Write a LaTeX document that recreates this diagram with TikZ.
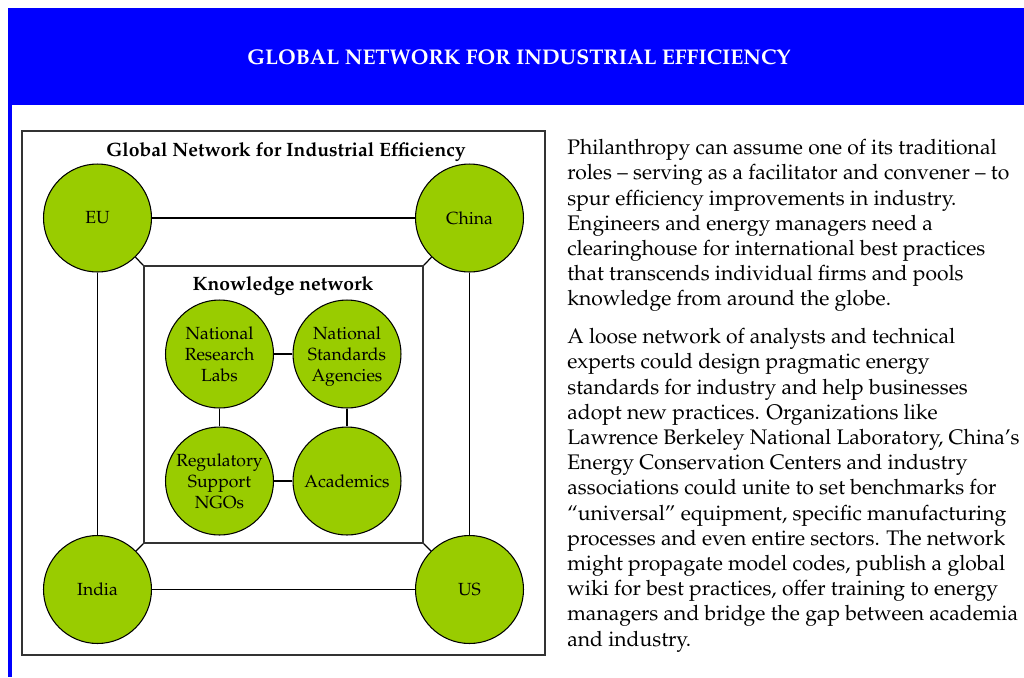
\documentclass[tikz,border=0pt]{standalone}
\usepackage[T1]{fontenc}
\usepackage{mathpazo}
\usetikzlibrary{positioning}
\definecolor{hdrblue}{RGB}{0,0,255}
\definecolor{leaf}{RGB}{153,204,0}
\tikzset{
  hub/.style={circle, draw=black, line width=0.6pt, fill=leaf, minimum size=2.16cm,
    inner sep=0pt, align=center, font=\fontsize{10}{12}\selectfont},
  link/.style={line width=0.7pt},
  frame/.style={draw=black!80, line width=1pt},
  boxtitle/.style={font=\bfseries\fontsize{11}{13}\selectfont},
  headtitle/.style={text=white, font=\bfseries\fontsize{12.1}{14}\selectfont},
  para/.style={anchor=north west, inner sep=0pt, align=left,
    font=\fontsize{12}{14.35}\selectfont}
}

\begin{document}
\begin{tikzpicture}[x=0.02cm, y=-0.02cm]
			%%%%% FRAME %%%%%
			\useasboundingbox (0,0) rectangle (1024,677);
			\fill[hdrblue] (8,8) rectangle (1024,105);
			\fill[hdrblue] (8,105) rectangle (12,677);
			\node[headtitle] (head) at (519,57) {GLOBAL NETWORK FOR INDUSTRIAL EFFICIENCY};
			
			%%%%% GLOBAL NETWORK %%%%%
			\draw[frame] (22,131) rectangle (545,655);
			\node[boxtitle] (gtitle) at (286,152) {Global Network for Industrial Efficiency};
			
			\node[hub] (eu) at (97.5,218) {EU};
			\node[hub] (china) at (469.5,218) {China};
			\node[hub] (india) at (97.5,589.5) {India};
			\node[hub] (us) at (469.5,589.5) {US};
			
			\draw[link] (eu) -- (china);
			\draw[link] (eu) -- (india);
			\draw[link] (china) -- (us);
			\draw[link] (india) -- (us);
			
			%%%%% KNOWLEDGE NETWORK %%%%%
			\node[frame, minimum width=5.58cm, minimum height=5.54cm, inner sep=0pt] (kbox) at (283.5,404.5) {};
			\node[boxtitle] (ktitle) at (283,286) {Knowledge network};
			
			\draw[link] (eu) -- (kbox.north west);
			\draw[link] (china) -- (kbox.north east);
			\draw[link] (india) -- (kbox.south west);
			\draw[link] (us) -- (kbox.south east);
			
			\node[hub] (labs) at (219.5,354) {National\\Research\\Labs};
			\node[hub] (stds) at (347,354) {National\\Standards\\\raisebox{0pt}[\height][0pt]{Agencies}};
			\node[hub] (ngos) at (219.5,481) {Regulatory\\Support\\NGOs};
			\node[hub] (acad) at (347,481) {Academics};
			
			\draw[link] (labs) -- (stds);
			\draw[link] (labs) -- (ngos);
			\draw[link] (stds) -- (acad);
			\draw[link] (ngos) -- (acad);
			
			%%%%% TEXT %%%%%
			\node[para] (ptop) at (567,139) {Philanthropy can assume one of its traditional\\
				roles -- serving as a facilitator and convener -- to\\
				spur efficiency improvements in industry.\\
				Engineers and energy managers need a\\
				clearinghouse for international best practices\\
				that transcends individual firms and pools\\
				knowledge from around the globe.};
			\node[para] (pbottom) at (567,328) {A loose network of analysts and technical\\
				experts could design pragmatic energy\\
				standards for industry and help businesses\\
				adopt new practices. Organizations like\\
				Lawrence Berkeley National Laboratory, China's\\
				Energy Conservation Centers and industry\\
				associations could unite to set benchmarks for\\
				``universal'' equipment, specific manufacturing\\
				processes and even entire sectors. The network\\
				might propagate model codes, publish a global\\
				wiki for best practices, offer training to energy\\
				managers and bridge the gap between academia\\
				and industry.};
			
			%%%%% END %%%%%
\end{tikzpicture}
\end{document}
